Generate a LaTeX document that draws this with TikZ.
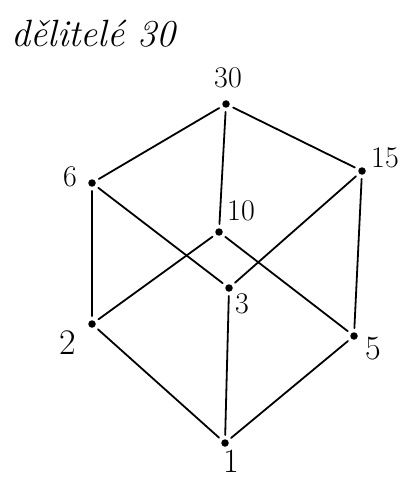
\documentclass[tikz,border=0pt]{standalone}
\usepackage{fontspec}
\begin{document}
\begin{tikzpicture}[x=1pt,y=-1pt, line join=round, line cap=round, font=\fontsize{30}{34}\selectfont,
	dot/.style={circle,fill,inner sep=0pt,minimum size=7.5pt},
	edge/.style={line width=1.8pt,shorten >=4pt,shorten <=4pt}]
			\useasboundingbox (0,0) rectangle (410,481);
			\node[anchor=west,font=\fontsize{38}{42}\selectfont\itshape] (title) at (8,34) {dělitelé 30};
			\node[dot] (n30) at (226,104) {};
			\node[dot] (n6) at (92,183) {};
			\node[dot] (n15) at (362,171) {};
			\node[dot] (n10) at (219,232) {};
			\node[dot] (n3) at (229,288) {};
			\node[dot] (n2) at (92,324) {};
			\node[dot] (n5) at (354,336) {};
			\node[dot] (n1) at (225,443) {};
			\node (l30) at (228,78) {30};
			\node (l6) at (70,177) {6};
			\node (l15) at (385,158) {15};
			\node (l10) at (241,211) {10};
			\node (l3) at (242,304) {3};
			\node[font=\fontsize{36}{40}\selectfont] (l2) at (68,343) {2};
			\node[font=\fontsize{34}{38}\selectfont] (l5) at (373,349) {5};
			\node[font=\fontsize{34}{38}\selectfont] (l1) at (231,461) {1};
			\foreach \a/\b in {30/6,30/10,30/15,6/2,6/3,15/3,15/5,10/2,10/5,2/1,3/1,5/1}
				\draw[edge] (n\a)--(n\b);
	\end{tikzpicture}
\end{document}
